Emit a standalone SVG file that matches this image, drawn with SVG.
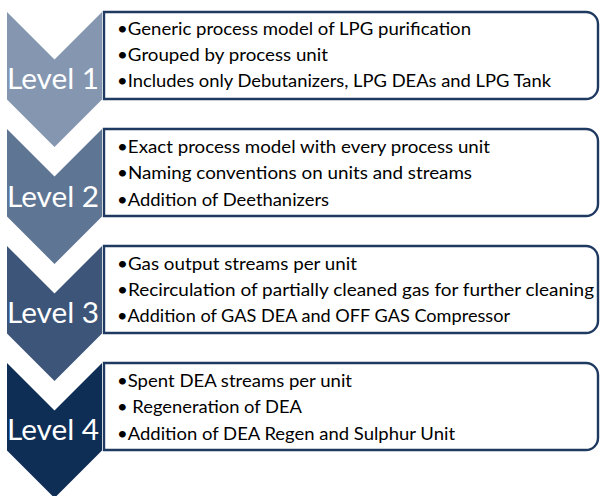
<svg xmlns="http://www.w3.org/2000/svg" width="601" height="496" viewBox="0 0 601 496">
<style>
.box{fill:#ffffff;stroke:#1f3a60;stroke-width:2.4}
.lvl{font-family:Lato,"Open Sans",sans-serif;font-size:28px;fill:#ffffff;text-anchor:middle}
.b{font-family:Lato,"Open Sans",sans-serif;font-size:18px;fill:#000000}
</style>
<defs>
<polygon id="chev" points="7,12 54.5,59.5 102,12 102,99.5 54.5,147 7,99.5"/>
<path id="bx" d="M104,12 H586 A12,12 0 0 1 598,24 V87 A12,12 0 0 1 586,99 H104 Z"/>
</defs>
<g id="connectors"/>
<g id="level1">
<use href="#chev" fill="#8496b0"/>
<use href="#bx" class="box"/>
<text class="lvl" x="53" y="89" textLength="92" lengthAdjust="spacingAndGlyphs">Level 1</text>
<text class="b" x="117" y="35" textLength="354" lengthAdjust="spacingAndGlyphs">•Generic process model of LPG purification</text>
<text class="b" x="117" y="61" textLength="211" lengthAdjust="spacingAndGlyphs">•Grouped by process unit</text>
<text class="b" x="117" y="87" textLength="434" lengthAdjust="spacingAndGlyphs">•Includes only Debutanizers, LPG DEAs and LPG Tank</text>
</g>
<g id="level2" transform="translate(0,117)">
<use href="#chev" fill="#5f7594"/>
<use href="#bx" class="box"/>
<text class="lvl" x="53" y="90" textLength="92" lengthAdjust="spacingAndGlyphs">Level 2</text>
<text class="b" x="117" y="36" textLength="373" lengthAdjust="spacingAndGlyphs">•Exact process model with every process unit</text>
<text class="b" x="117" y="62" textLength="355" lengthAdjust="spacingAndGlyphs">•Naming conventions on units and streams</text>
<text class="b" x="117" y="89" textLength="212" lengthAdjust="spacingAndGlyphs">•Addition of Deethanizers</text>
</g>
<g id="level3" transform="translate(0,234)">
<use href="#chev" fill="#3d5578"/>
<use href="#bx" class="box"/>
<text class="lvl" x="53" y="89" textLength="92" lengthAdjust="spacingAndGlyphs">Level 3</text>
<text class="b" x="117" y="36" textLength="240" lengthAdjust="spacingAndGlyphs">•Gas output streams per unit</text>
<text class="b" x="117" y="62" textLength="477" lengthAdjust="spacingAndGlyphs">•Recirculation of partially cleaned gas for further cleaning</text>
<text class="b" x="117" y="88" textLength="393" lengthAdjust="spacingAndGlyphs">•Addition of GAS DEA and OFF GAS Compressor</text>
</g>
<g id="level4" transform="translate(0,351)">
<use href="#chev" fill="#0f2e56"/>
<use href="#bx" class="box"/>
<text class="lvl" x="53" y="89" textLength="92" lengthAdjust="spacingAndGlyphs">Level 4</text>
<text class="b" x="117" y="36" textLength="235" lengthAdjust="spacingAndGlyphs">•Spent DEA streams per unit</text>
<text class="b" x="117" y="62" textLength="185" lengthAdjust="spacingAndGlyphs">• Regeneration of DEA</text>
<text class="b" x="117" y="89" textLength="338" lengthAdjust="spacingAndGlyphs">•Addition of DEA Regen and Sulphur Unit</text>
</g>
</svg>
